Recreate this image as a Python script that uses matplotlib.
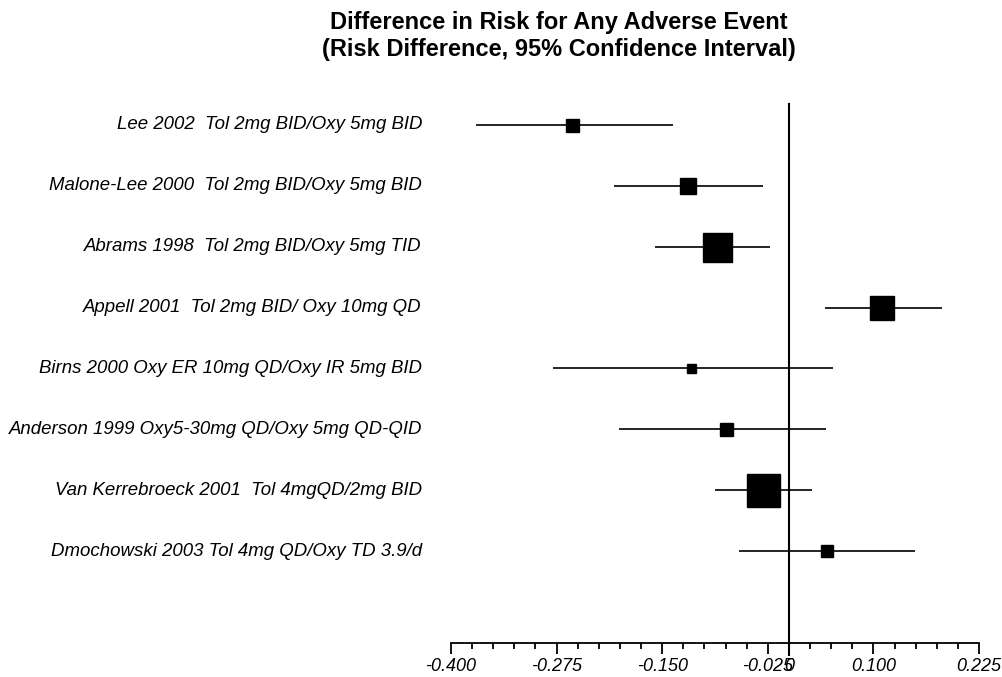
import matplotlib
matplotlib.use("Agg")
import matplotlib.pyplot as plt
from matplotlib.ticker import MultipleLocator, FixedLocator, FixedFormatter

studies = [
    "Lee 2002  Tol 2mg BID/Oxy 5mg BID",
    "Malone-Lee 2000  Tol 2mg BID/Oxy 5mg BID",
    "Abrams 1998  Tol 2mg BID/Oxy 5mg TID",
    "Appell 2001  Tol 2mg BID/ Oxy 10mg QD",
    "Birns 2000 Oxy ER 10mg QD/Oxy IR 5mg BID",
    "Anderson 1999 Oxy5-30mg QD/Oxy 5mg QD-QID",
    "Van Kerrebroeck 2001  Tol 4mgQD/2mg BID",
    "Dmochowski 2003 Tol 4mg QD/Oxy TD 3.9/d",
]
risk_diff = [-0.257, -0.120, -0.085, 0.110, -0.116, -0.075, -0.031, 0.045]
ci_low = [-0.370, -0.207, -0.159, 0.043, -0.279, -0.201, -0.088, -0.059]
ci_high = [-0.137, -0.031, -0.022, 0.181, 0.052, 0.044, 0.027, 0.149]
weight_box = [13, 16, 29, 24, 9, 13, 33, 12.5]  # relative box size (px)

tick_values = [-0.400, -0.275, -0.150, -0.025, 0.0, 0.100, 0.225]
tick_labels = ["-0.400", "-0.275", "-0.150", "-0.025", "0", "0.100", "0.225"]

plt.rcParams['font.family'] = ['Liberation Sans', 'DejaVu Sans']

fig = plt.figure(figsize=(10.02, 6.77), dpi=100)
ax = fig.add_axes([451/1002, 1-643/677, (979-451)/1002, (643-104)/677])

n = len(studies)
ys = [n - i for i in range(n)]

for y, m, lo, hi, w in zip(ys, risk_diff, ci_low, ci_high, weight_box):
    ax.plot([lo, hi], [y, y], color='black', lw=1.2, solid_capstyle='butt', zorder=2)
    ax.plot([m], [y], marker='s', ms=w*0.72, color='black', zorder=3)

ax.set_xlim(-0.400, 0.225)
ax.set_ylim(-0.511, 8.345)

ax.axvline(0, ymin=-0.022, ymax=1, color='black', lw=1.5, clip_on=False, zorder=1)

for s in ['left', 'top', 'right']:
    ax.spines[s].set_visible(False)
ax.spines['bottom'].set_linewidth(1.3)
ax.set_yticks([])
ax.xaxis.set_major_locator(FixedLocator(tick_values))
ax.xaxis.set_major_formatter(FixedFormatter(tick_labels))
ax.xaxis.set_minor_locator(MultipleLocator(0.025))
ax.tick_params(axis='x', which='major', length=8, width=1.3, direction='out', pad=3)
ax.tick_params(axis='x', which='minor', length=4.5, width=1.3, direction='out')
for lbl in ax.get_xticklabels():
    lbl.set_fontstyle('italic')
    lbl.set_fontsize(13)

for y, s in zip(ys, studies):
    ax.text(-0.4 - 29/845, y, s, ha='right', va='center', fontsize=13.4, fontstyle='italic')

fig.text(0.558, 1 - 36/677, "Difference in Risk for Any Adverse Event\n(Risk Difference, 95% Confidence Interval)",
         ha='center', va='center', fontsize=17, fontweight='bold', linespacing=1.2)

fig.savefig("out.png", dpi=100)
